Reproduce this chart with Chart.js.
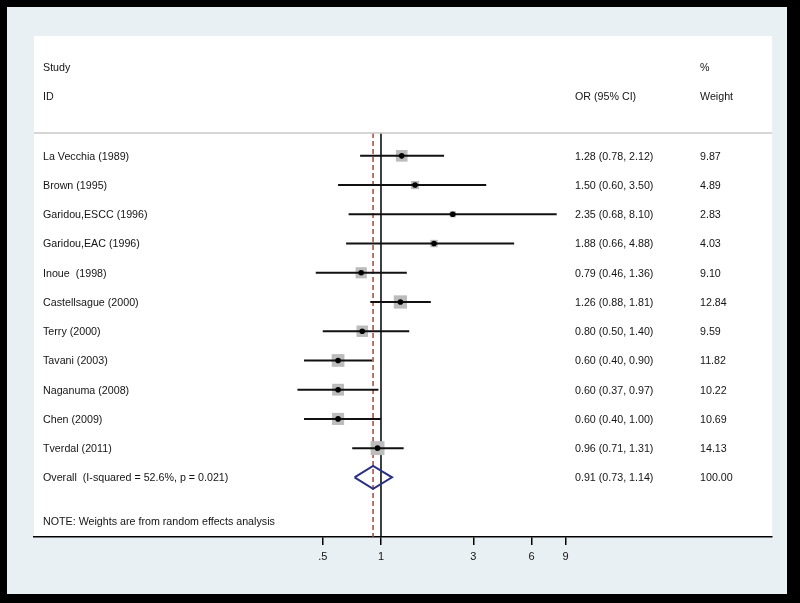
<!DOCTYPE html>
<html>
<head>
<meta charset="utf-8">
<script src="https://cdn.jsdelivr.net/npm/chart.js@4/dist/chart.umd.min.js"></script>
<style>
body { margin: 0; background: #000; }
canvas { display: block; }
</style>
</head>
<body>
<canvas id="forest" width="800" height="603"></canvas>
<script>
// study data
var studies = ['La Vecchia (1989)', 'Brown (1995)', 'Garidou,ESCC (1996)', 'Garidou,EAC (1996)',
  'Inoue  (1998)', 'Castellsague (2000)', 'Terry (2000)', 'Tavani (2003)',
  'Naganuma (2008)', 'Chen (2009)', 'Tverdal (2011)'];
var or = [1.28, 1.50, 2.35, 1.88, 0.79, 1.26, 0.80, 0.60, 0.60, 0.60, 0.96];
var lo = [0.78, 0.60, 0.68, 0.66, 0.46, 0.88, 0.50, 0.40, 0.37, 0.40, 0.71];
var hi = [2.12, 3.50, 8.10, 4.88, 1.36, 1.81, 1.40, 0.90, 0.97, 1.00, 1.31];
var weight = [9.87, 4.89, 2.83, 4.03, 9.10, 12.84, 9.59, 11.82, 10.22, 10.69, 14.13];

var overallLabel = 'Overall  (I-squared = 52.6%, p = 0.021)';
var overallOR = 0.91, overallLo = 0.73, overallHi = 1.14, overallWeight = 100.00;
var noteText = 'NOTE: Weights are from random effects analysis';

var tickVals = [0.5, 1, 3, 6, 9];
var tickLabels = ['.5', '1', '3', '6', '9'];

// row layout (y in row units, 1 = first study)
var rows = studies.map(function(s, i) { return i + 1; });
var overallRow = 12;
var yMin = -3.1, yMax = 14.04;
var sepRow = 0.22;
var xMin = 0.01607, xMax = 105.1;

Chart.defaults.font.family = '"Liberation Sans", Arial, sans-serif';

var datasets = [];

// null line and overall dashed line
datasets.push({ type: 'line', showLine: true, data: [{x: 1, y: sepRow}, {x: 1, y: yMax}],
  borderColor: '#000', borderWidth: 1.5, pointRadius: 0, order: 6 });
datasets.push({ type: 'line', showLine: true, data: [{x: overallOR, y: sepRow}, {x: overallOR, y: yMax}],
  borderColor: '#a8443c', borderDash: [5, 3], borderWidth: 1.5, pointRadius: 0, order: 5 });

// weight boxes
datasets.push({ type: 'scatter', order: 4,
  data: rows.map(function(r, i) { return {x: or[i], y: r}; }),
  pointStyle: 'rect', backgroundColor: '#bcbcbc', borderWidth: 0,
  pointRadius: function(c) { return Math.sqrt(weight[c.dataIndex]) * 3.7 / Math.SQRT2; } });

// confidence intervals
for (var i = 0; i < studies.length; i++) {
  datasets.push({ type: 'line', showLine: true, order: 3,
    data: [{x: lo[i], y: rows[i]}, {x: hi[i], y: rows[i]}],
    borderColor: '#111', borderWidth: 2, pointRadius: 0 });
}

// point estimates
datasets.push({ type: 'scatter', order: 2,
  data: rows.map(function(r, i) { return {x: or[i], y: r}; }),
  pointStyle: 'circle', pointRadius: 2.8, backgroundColor: '#000', borderWidth: 0 });

// overall diamond
var dh = 0.39;
datasets.push({ type: 'line', showLine: true, order: 1, tension: 0,
  data: [{x: overallLo, y: overallRow}, {x: overallOR, y: overallRow - dh}, {x: overallHi, y: overallRow},
         {x: overallOR, y: overallRow + dh}, {x: overallLo, y: overallRow}],
  borderColor: '#2b3182', borderWidth: 2, borderJoinStyle: 'miter', pointRadius: 0 });

var panelPlugin = {
  id: 'panel',
  beforeDraw: function(chart) {
    var c = chart.ctx, a = chart.chartArea;
    c.save();
    c.fillStyle = '#000';
    c.fillRect(0, 0, chart.width, chart.height);
    c.fillStyle = '#e8f0f4';
    c.fillRect(7, 7, chart.width - 20, chart.height - 16);
    c.fillStyle = '#fff';
    c.fillRect(a.left, a.top, a.right - a.left, a.bottom - a.top);
    c.restore();
  },
  afterDatasetsDraw: function(chart) {
    var c = chart.ctx, a = chart.chartArea, ys = chart.scales.y;
    var colLabel = 43, colOR = 575, colW = 700;
    c.save();
    // separator under header
    c.strokeStyle = '#c8c8c8';
    c.lineWidth = 1.5;
    c.beginPath();
    c.moveTo(a.left, ys.getPixelForValue(sepRow));
    c.lineTo(a.right, ys.getPixelForValue(sepRow));
    c.stroke();

    c.fillStyle = '#141414';
    c.font = '10.7px "Liberation Sans", Arial, sans-serif';
    c.textBaseline = 'middle';
    c.textAlign = 'left';
    c.fillText('Study', colLabel, ys.getPixelForValue(-2));
    c.fillText('ID', colLabel, ys.getPixelForValue(-1));
    c.fillText('OR (95% CI)', colOR, ys.getPixelForValue(-1));
    c.fillText('%', colW, ys.getPixelForValue(-2));
    c.fillText('Weight', colW, ys.getPixelForValue(-1));

    for (var i = 0; i < studies.length; i++) {
      var y = ys.getPixelForValue(rows[i]) + 1;
      c.fillText(studies[i], colLabel, y);
      c.fillText(or[i].toFixed(2) + ' (' + lo[i].toFixed(2) + ', ' + hi[i].toFixed(2) + ')', colOR, y);
      c.fillText(weight[i].toFixed(2), colW, y);
    }
    var yo = ys.getPixelForValue(overallRow) + 1;
    c.fillText(overallLabel, colLabel, yo);
    c.fillText(overallOR.toFixed(2) + ' (' + overallLo.toFixed(2) + ', ' + overallHi.toFixed(2) + ')', colOR, yo);
    c.fillText(overallWeight.toFixed(2), colW, yo);
    c.fillText(noteText, colLabel, ys.getPixelForValue(13.5) + 1);
    c.restore();
  }
};

new Chart(document.getElementById('forest').getContext('2d'), {
  type: 'scatter',
  data: { datasets: datasets },
  options: {
    responsive: false,
    animation: false,
    events: [],
    layout: { padding: { left: 34, right: 28, top: 36, bottom: 36 } },
    plugins: { legend: { display: false }, tooltip: { enabled: false } },
    scales: {
      x: {
        type: 'logarithmic', position: 'bottom', min: xMin, max: xMax,
        grid: { display: true, drawOnChartArea: false, drawTicks: true, tickLength: 8, color: '#000', lineWidth: 1.5 },
        border: { display: true, color: '#000', width: 1.5 },
        ticks: { autoSkip: false, maxRotation: 0, padding: 5, color: '#141414', font: { size: 11 },
          callback: function(v, i) { return tickLabels[i]; } },
        afterBuildTicks: function(s) { s.ticks = tickVals.map(function(v) { return {value: v}; }); },
        afterFit: function(s) { s.height = 30; }
      },
      y: { type: 'linear', min: yMin, max: yMax, reverse: true, display: false }
    }
  },
  plugins: [panelPlugin]
});
</script>
</body>
</html>
